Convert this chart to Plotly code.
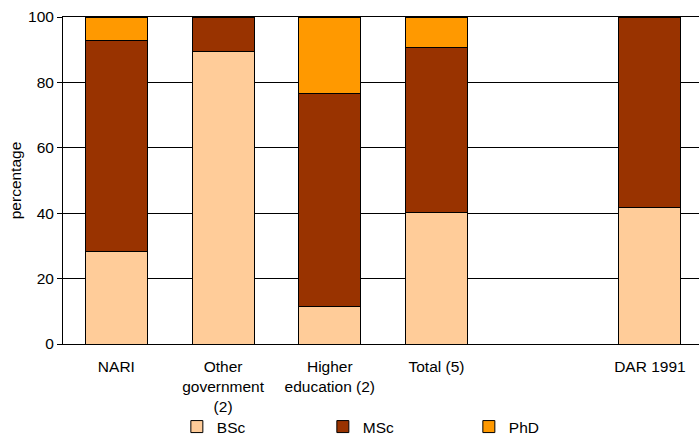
import plotly.graph_objects as go

# Qualification mix of staff, by employer group (percent of staff)
categories = ["NARI", "Other government (2)", "Higher education (2)", "Total (5)", " ", "DAR 1991"]
tick_labels = ["NARI", "Other<br>government<br>(2)", "Higher<br>education (2)", "Total (5)", "", "DAR 1991"]
bsc = [28.3, 89.4, 11.6, 40.1, None, 41.7]
msc = [64.6, 10.6, 65.1, 50.6, None, 58.3]
phd = [7.1, 0, 23.3, 9.3, None, 0]

series = [
    ("BSc", bsc, "#FFCC99"),
    ("MSc", msc, "#993300"),
    ("PhD", phd, "#FF9900"),
]

FONT = "Liberation Sans, Arial, sans-serif"
FS = 15.5

fig = go.Figure()
for name, vals, color in series:
    fig.add_trace(go.Bar(
        name=name,
        x=categories,
        y=vals,
        width=0.58,
        marker=dict(color=color, line=dict(color="black", width=1)),
    ))

fig.update_layout(
    barmode="stack",
    width=699,
    height=444,
    margin=dict(l=63, r=0, t=17, b=100),
    paper_bgcolor="white",
    plot_bgcolor="white",
    font=dict(family=FONT, size=FS, color="black"),
    showlegend=True,
    legend=dict(
        orientation="h",
        x=0.179,
        xanchor="left",
        y=-0.3058,
        yanchor="bottom",
        entrywidth=101,
        entrywidthmode="pixels",
        bgcolor="rgba(0,0,0,0)",
        font=dict(size=FS),
        traceorder="normal",
    ),
    xaxis=dict(
        type="category",
        categoryorder="array",
        categoryarray=categories,
        tickvals=categories,
        ticktext=tick_labels,
        range=[-0.5, 5.46],
        showline=True,
        linecolor="black",
        linewidth=1,
        mirror=True,
        ticks="outside",
        ticklen=8,
        tickcolor="rgba(0,0,0,0)",
        showgrid=False,
        tickfont=dict(size=FS),
    ),
    yaxis=dict(
        range=[0, 100],
        tickvals=[0, 20, 40, 60, 80, 100],
        showline=True,
        linecolor="black",
        linewidth=1,
        ticks="outside",
        ticklen=5,
        tickcolor="black",
        showgrid=True,
        gridcolor="black",
        gridwidth=1,
        zeroline=False,
        title=dict(text="percentage", standoff=2, font=dict(size=FS)),
        tickfont=dict(size=FS),
    ),
)

fig.write_html("out.html")
